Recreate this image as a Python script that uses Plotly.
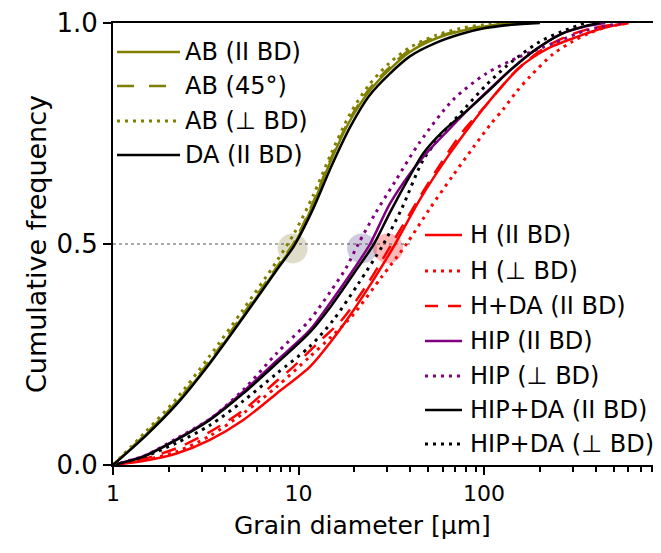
import plotly.graph_objects as go

# ---------------- data ----------------
AB_par_d = [1, 1.5, 2.2, 3.3, 5.0, 7.6, 9.5, 12, 15, 19, 24, 31, 40, 55, 75, 100, 140, 180]
AB_par_F = [0, 0.068, 0.14, 0.23, 0.335, 0.443, 0.50, 0.59, 0.69, 0.78, 0.845, 0.895, 0.935, 0.965, 0.982, 0.992, 0.998, 1.0]

AB_45_d = [1, 1.5, 2.2, 3.3, 5.0, 7.6, 9.5, 12, 15, 19, 24, 31, 40, 55, 75, 100, 140, 180]
AB_45_F = [0, 0.07, 0.143, 0.234, 0.34, 0.447, 0.505, 0.595, 0.695, 0.785, 0.85, 0.9, 0.94, 0.968, 0.984, 0.993, 0.998, 1.0]

AB_perp_d = [1, 1.5, 2.2, 3.3, 5.0, 7.6, 9.5, 12, 15, 19, 24, 31, 40, 55, 75, 100, 150]
AB_perp_F = [0, 0.075, 0.15, 0.245, 0.35, 0.46, 0.525, 0.61, 0.705, 0.795, 0.86, 0.91, 0.945, 0.972, 0.988, 0.996, 1.0]

DA_par_d = [1, 1.5, 2.2, 3.3, 5.0, 7.6, 9.5, 12, 15, 19, 24, 31, 40, 55, 75, 100, 140, 200]
DA_par_F = [0, 0.066, 0.137, 0.228, 0.332, 0.44, 0.497, 0.58, 0.675, 0.765, 0.835, 0.885, 0.925, 0.955, 0.975, 0.988, 0.996, 1.0]

H_par_d = [1, 1.5, 2.2, 3.33, 5.04, 7.63, 11.5, 15, 18.2, 25, 33.2, 45, 65.5, 85, 103, 130, 156, 200, 236, 300, 360, 450, 600]
H_par_F = [0, 0.01, 0.026, 0.057, 0.102, 0.162, 0.222, 0.28, 0.328, 0.415, 0.50, 0.60, 0.705, 0.77, 0.815, 0.865, 0.90, 0.932, 0.948, 0.965, 0.977, 0.99, 1.0]

H_perp_d = [1, 1.5, 2.2, 3.33, 5.04, 7.63, 11.5, 15, 19.7, 28, 38.2, 51, 68, 88, 108, 127, 150, 177, 236, 300, 360, 450, 600]
H_perp_F = [0, 0.012, 0.03, 0.066, 0.117, 0.177, 0.245, 0.29, 0.34, 0.425, 0.50, 0.58, 0.655, 0.72, 0.77, 0.805, 0.845, 0.879, 0.93, 0.958, 0.975, 0.99, 1.0]

HDA_par_d = [1, 1.5, 2.2, 3.33, 5.04, 7.63, 9.37, 13, 17.1, 24, 31.8, 42, 55, 77, 103, 144, 190, 236, 300, 400, 600]
HDA_par_F = [0, 0.015, 0.038, 0.075, 0.124, 0.19, 0.222, 0.28, 0.328, 0.415, 0.50, 0.585, 0.665, 0.755, 0.815, 0.886, 0.93, 0.955, 0.975, 0.99, 1.0]

HIP_par_d = [1, 1.46, 2.2, 3.33, 5.04, 7.63, 11.5, 15, 20, 24.3, 31, 40, 50, 65, 85, 110, 140, 190, 260, 350, 450]
HIP_par_F = [0, 0.02, 0.058, 0.104, 0.166, 0.236, 0.305, 0.37, 0.445, 0.50, 0.59, 0.66, 0.71, 0.76, 0.81, 0.855, 0.895, 0.94, 0.975, 0.992, 1.0]

HIP_perp_d = [1, 1.5, 2.2, 3.33, 5.04, 7.63, 11.5, 15, 18, 21, 26, 33, 45, 68, 103, 156, 236, 360, 560]
HIP_perp_F = [0, 0.022, 0.06, 0.104, 0.17, 0.253, 0.328, 0.395, 0.445, 0.50, 0.57, 0.64, 0.73, 0.826, 0.886, 0.924, 0.954, 0.984, 1.0]

HIPDA_par_d = [1, 1.46, 2.2, 3.33, 5.04, 7.63, 11.5, 15, 20, 25.5, 31, 40, 47, 60, 80, 108, 140, 190, 260, 350, 420]
HIPDA_par_F = [0, 0.019, 0.057, 0.102, 0.162, 0.23, 0.30, 0.36, 0.435, 0.50, 0.57, 0.655, 0.705, 0.755, 0.80, 0.85, 0.895, 0.94, 0.975, 0.993, 1.0]

HIPDA_perp_d = [1, 1.5, 2.2, 3.33, 5.04, 7.63, 11.5, 15.4, 21, 28.7, 36, 47, 60, 80, 103, 130, 160, 200, 260, 350]
HIPDA_perp_F = [0, 0.02, 0.05, 0.09, 0.145, 0.207, 0.268, 0.328, 0.41, 0.50, 0.58, 0.69, 0.75, 0.81, 0.86, 0.90, 0.93, 0.958, 0.98, 1.0]

# median markers and reference line
median_d = [9.3, 22, 30.4]
median_F = [0.49, 0.49, 0.49]
ref_d = [1, 41]
ref_F = [0.5, 0.5]

x_tick_vals = [1, 10, 100]
x_tick_text = ["1", "10", "100"]
y_tick_vals = [0, 0.5, 1.0]
y_tick_text = ["0.0", "0.5", "1.0"]

x_title = "Grain diameter [μm]"
y_title = "Cumulative frequency"

legend1 = ["AB (II BD)", "AB (45°)", "AB (⊥ BD)", "DA (II BD)"]
legend2 = ["H (II BD)", "H (⊥ BD)", "H+DA (II BD)", "HIP (II BD)", "HIP (⊥ BD)",
           "HIP+DA (II BD)", "HIP+DA (⊥ BD)"]

# ---------------- styles ----------------
OLIVE = "#808000"
RED = "#ff0000"
PURPLE = "#800080"
BLACK = "#000000"
DOT = "3px,5px"
DASH = "15px,10px"
FONT = "DejaVu Sans"

series = [
    # (d, F, color, dash, width)
    (H_perp_d, H_perp_F, RED, DOT, 3),
    (H_par_d, H_par_F, RED, "solid", 2.5),
    (HDA_par_d, HDA_par_F, RED, DASH, 2.5),
    (HIPDA_perp_d, HIPDA_perp_F, BLACK, DOT, 3),
    (HIP_perp_d, HIP_perp_F, PURPLE, DOT, 3),
    (HIP_par_d, HIP_par_F, PURPLE, "solid", 2.5),
    (HIPDA_par_d, HIPDA_par_F, BLACK, "solid", 2.5),
    (AB_par_d, AB_par_F, OLIVE, "solid", 2.5),
    (AB_45_d, AB_45_F, OLIVE, DASH, 2.5),
    (AB_perp_d, AB_perp_F, OLIVE, DOT, 3),
    (DA_par_d, DA_par_F, BLACK, "solid", 2.5),
]

fig = go.Figure()

# translucent median circles
fig.add_trace(go.Scatter(
    x=median_d, y=median_F, mode="markers",
    marker=dict(size=30, color=["rgba(128,118,40,0.25)", "rgba(100,80,150,0.3)", "rgba(255,0,0,0.28)"],
                line=dict(width=0)),
    showlegend=False, hoverinfo="skip", cliponaxis=False))

# 0.5 reference line
fig.add_trace(go.Scatter(
    x=ref_d, y=ref_F, mode="lines",
    line=dict(color="#555555", width=1, dash="3px,3px"),
    showlegend=False, hoverinfo="skip"))

for d, F, col, dash, w in series:
    fig.add_trace(go.Scatter(
        x=d, y=F, mode="lines",
        line=dict(color=col, width=w, dash=dash, shape="spline", smoothing=0.8),
        showlegend=False, cliponaxis=False))

# ---------------- custom legends (positions in screen pixels of the plot area) ----------------
L, R, T, B = 113, 661, 23, 465
W, H = R - L, B - T
OFF = 8  # page body margin of the browser


def px(xp):
    return (xp - L) / W


def py(yp):
    return (B - yp) / H


leg1_styles = [(OLIVE, "solid", 2.5), (OLIVE, "17px,15px", 2.5), (OLIVE, DOT, 3), (BLACK, "solid", 2.5)]
leg1_y = [52, 86, 121, 155]
leg2_styles = [(RED, "solid", 2.5), (RED, DOT, 3), (RED, "13px,10px", 2.5), (PURPLE, "solid", 2.5),
               (PURPLE, DOT, 3), (BLACK, "solid", 2.5), (BLACK, DOT, 3)]
leg2_y = [235, 271, 306, 341, 376, 410, 444]

shapes = []
annotations = []
for (col, dash, w), yy, txt in zip(leg1_styles, leg1_y, legend1):
    shapes.append(dict(type="line", xref="paper", yref="paper",
                       x0=px(117), x1=px(180), y0=py(yy), y1=py(yy),
                       line=dict(color=col, width=w, dash=dash)))
    annotations.append(dict(xref="paper", yref="paper", x=px(183), y=py(yy), text=txt,
                            showarrow=False, xanchor="left", yanchor="middle",
                            font=dict(family=FONT, size=24, color="black")))
for (col, dash, w), yy, txt in zip(leg2_styles, leg2_y, legend2):
    shapes.append(dict(type="line", xref="paper", yref="paper",
                       x0=px(425), x1=px(462), y0=py(yy), y1=py(yy),
                       line=dict(color=col, width=w, dash=dash)))
    annotations.append(dict(xref="paper", yref="paper", x=px(468), y=py(yy), text=txt,
                            showarrow=False, xanchor="left", yanchor="middle",
                            font=dict(family=FONT, size=24, color="black")))

# x-axis title (placed where the reference shows it)
annotations.append(dict(xref="paper", yref="paper", x=px(362), y=py(525), text=x_title,
                        showarrow=False, xanchor="center", yanchor="middle",
                        font=dict(family=FONT, size=25, color="black")))

minor_vals = [m * 10 ** e for e in range(0, 3) for m in range(2, 10)]

FIG_W, FIG_H = 661 - OFF, 553 - OFF

fig.update_layout(
    width=FIG_W, height=FIG_H, autosize=False,
    margin=dict(l=L - OFF, r=FIG_W - (R - OFF), t=T - OFF, b=FIG_H - (B - OFF), pad=0),
    paper_bgcolor="white", plot_bgcolor="white",
    font=dict(family=FONT, color="black"),
    shapes=shapes, annotations=annotations,
    xaxis=dict(
        type="log", range=[0, 2.954],
        showline=True, linecolor="black", linewidth=2, mirror=True,
        ticks="outside", ticklen=8, tickwidth=2, tickcolor="black",
        tickvals=x_tick_vals, ticktext=x_tick_text,
        tickfont=dict(family=FONT, size=22),
        minor=dict(tickvals=minor_vals, ticks="outside", ticklen=5, tickwidth=1.5, tickcolor="black"),
        showgrid=False, zeroline=False,
    ),
    yaxis=dict(
        range=[0, 1],
        showline=True, linecolor="black", linewidth=2, mirror=False,
        ticks="outside", ticklen=8, tickwidth=2, tickcolor="black",
        tickvals=y_tick_vals, ticktext=y_tick_text,
        tickfont=dict(family=FONT, size=26),
        showgrid=False, zeroline=False,
        title=dict(text=y_title, font=dict(family=FONT, size=27), standoff=2),
    ),
)

fig.write_html("out.html")
